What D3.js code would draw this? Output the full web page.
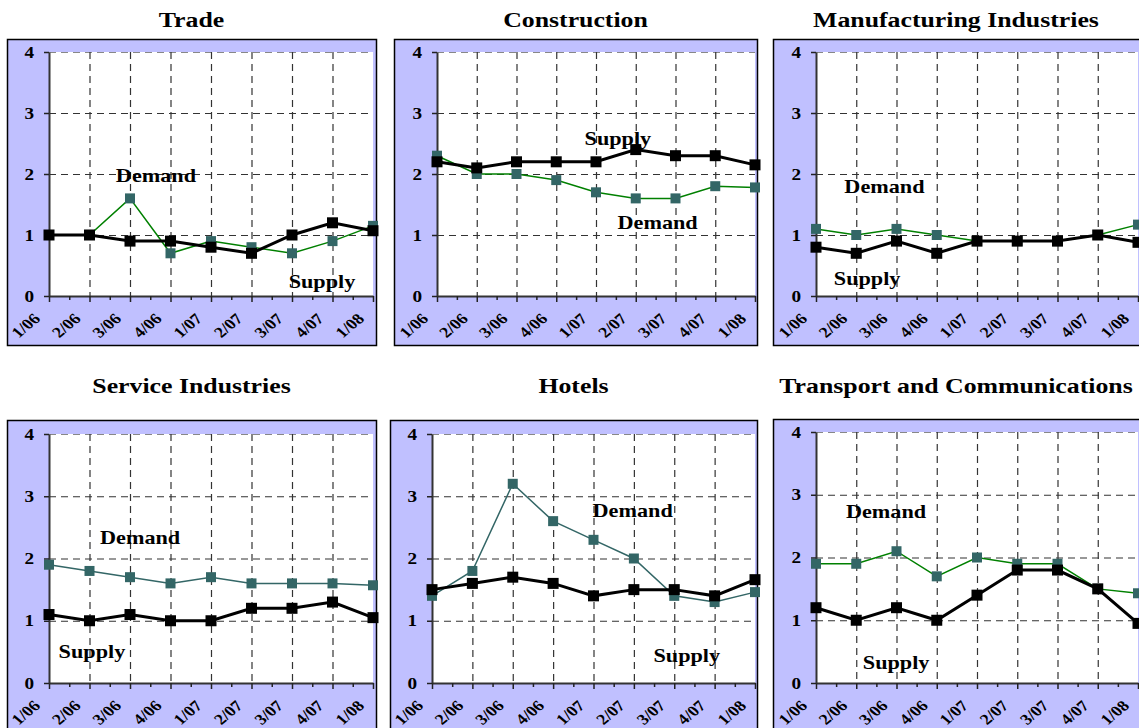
<!DOCTYPE html>
<html>
<head>
<meta charset="utf-8">
<title>Supply and demand by sector</title>
<style>
  body { margin: 0; background: #fff; }
  text { font-family: "Liberation Serif", "Times New Roman", serif; font-weight: bold; fill: #000; }
</style>
</head>
<body>
<script src="https://cdnjs.cloudflare.com/ajax/libs/d3/7.8.5/d3.min.js"></script>
<script>
var periods = ["1/06", "2/06", "3/06", "4/06", "1/07", "2/07", "3/07", "4/07", "1/08"];
var yTicks = [0, 1, 2, 3, 4];
var sectors = ["Trade", "Construction", "Manufacturing Industries",
               "Service Industries", "Hotels", "Transport and Communications"];

var tradeSupply = [1.0, 1.0, 0.9, 0.9, 0.8, 0.7, 1.0, 1.2, 1.07];
var tradeDemand = [1.0, 1.0, 1.6, 0.7, 0.9, 0.8, 0.7, 0.9, 1.15];
var constructionSupply = [2.2, 2.1, 2.2, 2.2, 2.2, 2.4, 2.3, 2.3, 2.15];
var constructionDemand = [2.3, 2.0, 2.0, 1.9, 1.7, 1.6, 1.6, 1.8, 1.78];
var manufacturingSupply = [0.8, 0.7, 0.9, 0.7, 0.9, 0.9, 0.9, 1.0, 0.88];
var manufacturingDemand = [1.1, 1.0, 1.1, 1.0, 0.9, 0.9, 0.9, 1.0, 1.17];
var serviceSupply = [1.1, 1.0, 1.1, 1.0, 1.0, 1.2, 1.2, 1.3, 1.05];
var serviceDemand = [1.9, 1.8, 1.7, 1.6, 1.7, 1.6, 1.6, 1.6, 1.57];
var hotelsSupply = [1.5, 1.6, 1.7, 1.6, 1.4, 1.5, 1.5, 1.4, 1.66];
var hotelsDemand = [1.4, 1.8, 3.2, 2.6, 2.3, 2.0, 1.4, 1.3, 1.46];
var transportSupply = [1.2, 1.0, 1.2, 1.0, 1.4, 1.8, 1.8, 1.5, 0.95];
var transportDemand = [1.9, 1.9, 2.1, 1.7, 2.0, 1.9, 1.9, 1.5, 1.43];

var supplySeries = [tradeSupply, constructionSupply, manufacturingSupply,
                    serviceSupply, hotelsSupply, transportSupply];
var demandSeries = [tradeDemand, constructionDemand, manufacturingDemand,
                    serviceDemand, hotelsDemand, transportDemand];

// where the "Demand" / "Supply" notes sit, as [category index, value]
var demandSpots = [[2.64, 1.87], [5.55, 1.10], [1.70, 1.69], [2.25, 2.23], [4.97, 2.67], [1.74, 2.63]];
var supplySpots = [[6.74, 0.13], [4.55, 2.48], [1.27, 0.18], [1.06, 0.40], [6.31, 0.34], [1.99, 0.22]];
var demandLineColor = ["#008000", "#008000", "#008000", "#336666", "#336666", "#008000"];

// frame and plot boxes: [x0, y0, x1, y1]
var panels = [
  { frame: [7, 39, 376, 345],    plot: [49, 52, 373, 296],   titleY: 27 },
  { frame: [394, 39, 757, 345],  plot: [437, 52, 755, 296],  titleY: 27 },
  { frame: [773, 39, 1145, 345], plot: [816, 52, 1138, 296], titleY: 27 },
  { frame: [7, 420, 376, 745],   plot: [49, 434, 373, 683],  titleY: 393 },
  { frame: [390, 420, 757, 745], plot: [432, 434, 755, 683], titleY: 393 },
  { frame: [773, 419, 1145, 745], plot: [816, 432, 1138, 683], titleY: 393 }
];

var sx = 1.2; // text in the original is drawn a bit wide

var svg = d3.select('body').append('svg')
  .attr('width', 1139)
  .attr('height', 728);

function wideText(g, str, x, y, size, anchor, rot) {
  return g.append('text')
    .attr('transform', `translate(${x},${y}) scale(${sx},1)` + (rot ? ` rotate(${rot})` : ''))
    .attr('text-anchor', anchor)
    .style('font-size', size + 'px')
    .text(str);
}

panels.forEach(function (p, i) {
  var g = svg.append('g');
  var f = p.frame, b = p.plot;

  g.append('rect')
    .attr('x', f[0] + 0.5).attr('y', f[1] + 0.5)
    .attr('width', f[2] - f[0]).attr('height', f[3] - f[1])
    .attr('fill', '#c0c0ff').attr('stroke', '#000').attr('stroke-width', 1.5);
  g.append('rect')
    .attr('x', b[0]).attr('y', b[1])
    .attr('width', b[2] - b[0]).attr('height', b[3] - b[1])
    .attr('fill', '#fff');

  var x = d3.scalePoint().domain(periods).range([b[0], b[2]]);
  var xi = d3.scaleLinear().domain([0, periods.length - 1]).range([b[0], b[2]]);
  var y = d3.scaleLinear().domain([0, 4]).range([b[3], b[1]]);

  // grid
  g.selectAll('.hgrid').data(yTicks.slice(1)).enter().append('line')
    .attr('x1', b[0]).attr('x2', b[2])
    .attr('y1', d => y(d) + 0.5).attr('y2', d => y(d) + 0.5)
    .attr('stroke', d => d === 4 ? '#888' : '#333')
    .attr('stroke-width', 1.2)
    .attr('stroke-dasharray', '7,5');
  g.selectAll('.vgrid').data(periods.slice(1, -1)).enter().append('line')
    .attr('x1', d => x(d) + 0.5).attr('x2', d => x(d) + 0.5)
    .attr('y1', b[1]).attr('y2', b[3])
    .attr('stroke', '#333')
    .attr('stroke-width', 1.2)
    .attr('stroke-dasharray', '7,5');

  // axes
  g.append('g').attr('transform', `translate(0,${b[3]})`)
    .call(d3.axisBottom(x).tickSize(6).tickSizeOuter(0).tickFormat(''));
  var minor = d3.range(0.5, periods.length - 1, 1);
  g.append('g').attr('transform', `translate(0,${b[3]})`)
    .call(d3.axisBottom(xi).tickValues(minor).tickSize(4).tickFormat(''))
    .select('.domain').remove();
  g.append('g').attr('transform', `translate(${b[0]},0)`)
    .call(d3.axisLeft(y).tickValues(yTicks).tickSize(5).tickSizeOuter(0).tickFormat(''));
  g.selectAll('.domain').attr('stroke', '#333').attr('stroke-width', 2);
  g.selectAll('.tick line').attr('stroke', '#222').attr('stroke-width', 1.5);

  yTicks.forEach(function (t) {
    wideText(g, t, b[0] - 15, y(t) + 5.5, 16, 'end');
  });
  periods.forEach(function (d) {
    wideText(g, d, x(d) - 19, b[3] + 33, 15, 'middle', -45);
  });

  // series
  var line = d3.line().x((d, j) => xi(j)).y(d => y(d));
  g.append('path').datum(demandSeries[i])
    .attr('d', line).attr('fill', 'none')
    .attr('stroke', demandLineColor[i]).attr('stroke-width', 1.5);
  g.selectAll('.dm').data(demandSeries[i]).enter().append('rect')
    .attr('x', (d, j) => xi(j) - 5).attr('y', d => y(d) - 5)
    .attr('width', 10).attr('height', 10)
    .attr('fill', '#336666');
  g.append('path').datum(supplySeries[i])
    .attr('d', line).attr('fill', 'none')
    .attr('stroke', '#000').attr('stroke-width', 3);
  g.selectAll('.sm').data(supplySeries[i]).enter().append('rect')
    .attr('x', (d, j) => xi(j) - 5.5).attr('y', d => y(d) - 5.5)
    .attr('width', 11).attr('height', 11)
    .attr('fill', '#000');

  // notes
  wideText(g, 'Demand', xi(demandSpots[i][0]), y(demandSpots[i][1]), 18.5, 'middle');
  wideText(g, 'Supply', xi(supplySpots[i][0]), y(supplySpots[i][1]), 18.5, 'middle');

  // title
  wideText(svg, sectors[i], (f[0] + Math.min(f[2], 1139)) / 2, p.titleY, 21.5, 'middle');
});
</script>
</body>
</html>
